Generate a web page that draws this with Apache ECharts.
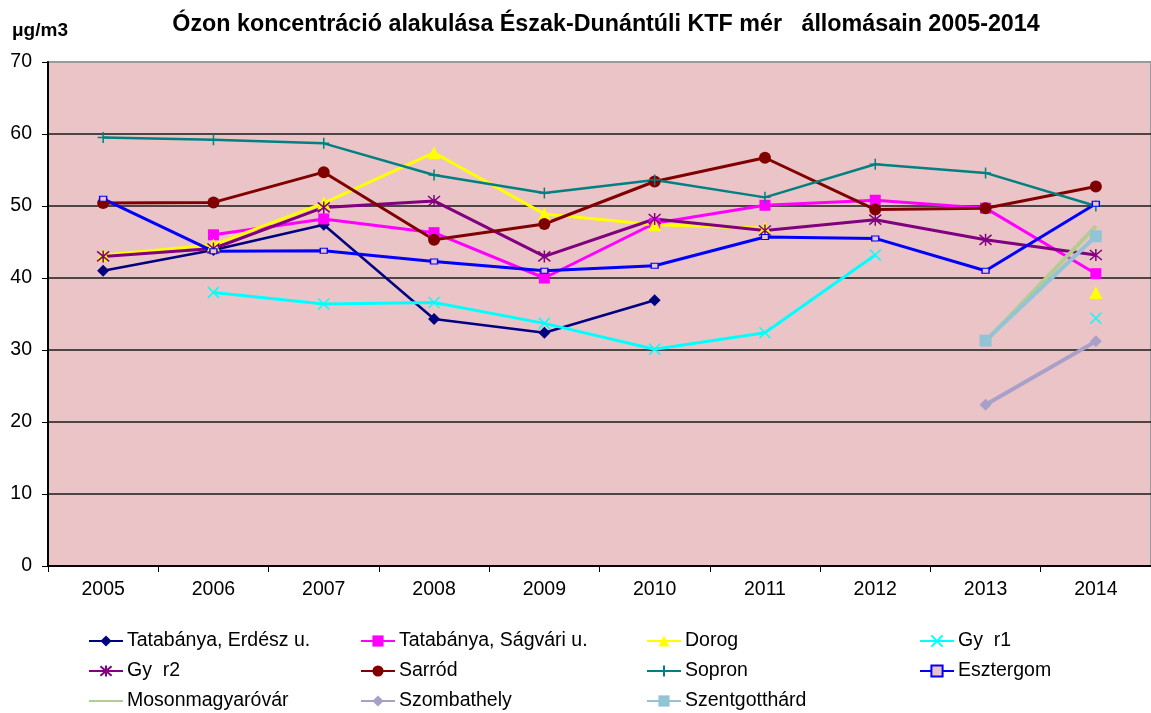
<!DOCTYPE html>
<html>
<head>
<meta charset="utf-8">
<script src="https://cdn.jsdelivr.net/npm/echarts@6/dist/echarts.min.js"></script>
<style>
  html, body { margin: 0; padding: 0; background: #ffffff; }
  #chart { width: 1151px; height: 713px; }
</style>
</head>
<body>
<div id="chart"></div>
<script>
// Ozone concentration (µg/m3) by station, 2005-2014
const years = ['2005', '2006', '2007', '2008', '2009', '2010', '2011', '2012', '2013', '2014'];
const yTicks = [0, 10, 20, 30, 40, 50, 60, 70];

const tatabanyaErdesz  = [41.0, 43.9, 47.4, 34.3, 32.4, 36.9, null, null, null, null];
const tatabanyaSagvari = [null, 46.0, 48.2, 46.3, 40.0, 47.6, 50.1, 50.8, 49.7, 40.6];
const dorog            = [43.2, 44.6, 50.4, 57.4, 48.9, 47.4, 46.9, null, null, 38.0];
const gyor1            = [null, 38.0, 36.4, 36.6, 33.7, 30.1, 32.4, 43.2, null, 34.4];
const gyor2            = [43.0, 44.1, 49.8, 50.7, 43.0, 48.2, 46.6, 48.1, 45.3, 43.2];
const sarrod           = [50.4, 50.5, 54.7, 45.3, 47.5, 53.4, 56.7, 49.5, 49.7, 52.7];
const sopron           = [59.5, 59.2, 58.7, 54.3, 51.8, 53.6, 51.2, 55.8, 54.6, 50.0];
const esztergom        = [51.0, 43.7, 43.8, 42.3, 41.0, 41.7, 45.7, 45.5, 41.0, 50.3];
const mosonmagyarovar  = [null, null, null, null, null, null, null, null, 31.2, 47.2];
const szombathely      = [null, null, null, null, null, null, null, null, 22.4, 31.2];
const szentgotthard    = [null, null, null, null, null, null, null, null, 31.3, 45.8];

const plotBg = '#eac4c6';
const FONT = '"Liberation Sans", Arial, sans-serif';
const LABEL_SIZE = 19.5;

const SYM_X = 'path://M0,0L10,10M10,0L0,10';
const SYM_STAR = 'path://M0,0L10,10M10,0L0,10M5,-1L5,11';
const SYM_PLUS = 'path://M5,0L5,10M4.9,5L5.1,5';
const SYM_NONE = 'path://M0,0L10,10';   // open path without stroke: nothing is painted

function line(name, data, color, width, symbol, size, opts) {
  opts = opts || {};
  return {
    name: name,
    type: 'line',
    data: data,
    connectNulls: false,
    symbol: symbol,
    symbolSize: size,
    showSymbol: true,
    showAllSymbol: true,
    animation: false,
    lineStyle: { color: color, width: width },
    itemStyle: {
      color: opts.fill || color,
      borderColor: color,
      borderWidth: opts.stroke || 0
    },
    emphasis: { disabled: true }
  };
}

const series = [
  line('Tatabánya, Erdész u.', tatabanyaErdesz, '#000080', 2.5, 'diamond', 12),
  line('Tatabánya, Ságvári u.', tatabanyaSagvari, '#ff00ff', 3, 'rect', 11),
  line('Dorog', dorog, '#ffff00', 3, 'triangle', 13),
  line('Gy  r1', gyor1, '#00ffff', 3, SYM_X, 11, { stroke: 1.5 }),
  line('Gy  r2', gyor2, '#800080', 3, SYM_STAR, 12, { stroke: 1.5 }),
  line('Sarród', sarrod, '#800000', 3, 'circle', 12),
  line('Sopron', sopron, '#008080', 2.5, SYM_PLUS, 11, { stroke: 1.5 }),
  line('Esztergom', esztergom, '#0000ff', 3, 'rect', [7, 5], { fill: plotBg, stroke: 1.2 }),
  line('Mosonmagyaróvár', mosonmagyarovar, '#b4cc92', 4, SYM_NONE, 10),
  line('Szombathely', szombathely, '#a8a0c8', 4, 'diamond', 12),
  line('Szentgotthárd', szentgotthard, '#93c4d6', 4, 'rect', 12)
];

// Legend laid out in four fixed columns, three rows
const legendCols = [
  { left: 88,  names: ['Tatabánya, Erdész u.', 'Gy  r2', 'Mosonmagyaróvár'] },
  { left: 360, names: ['Tatabánya, Ságvári u.', 'Sarród', 'Szombathely'] },
  { left: 646, names: ['Dorog', 'Sopron', 'Szentgotthárd'] },
  { left: 919, names: ['Gy  r1', 'Esztergom'] }
];

const legends = legendCols.map(function (c) {
  return {
    data: c.names,
    orient: 'vertical',
    left: c.left,
    top: 631,
    height: 140,
    padding: 0,
    itemWidth: 34,
    itemHeight: 14,
    itemGap: 10,
    selectedMode: false,
    textStyle: { fontFamily: FONT, fontSize: LABEL_SIZE, color: '#000', padding: [0, 0, 0, -1] }
  };
});

const chart = echarts.init(document.getElementById('chart'), null, { renderer: 'canvas' });

chart.setOption({
  backgroundColor: '#ffffff',
  animation: false,
  graphic: [
    {
      type: 'text', x: 606, y: 25,
      style: {
        text: 'Ózon koncentráció alakulása Észak-Dunántúli KTF mér   állomásain 2005-2014',
        font: 'bold 23.3px ' + FONT, fill: '#000',
        align: 'center', verticalAlign: 'middle'
      }
    },
    {
      type: 'text', x: 12, y: 31,
      style: {
        text: 'μg/m3', font: 'bold 19px ' + FONT, fill: '#000',
        align: 'left', verticalAlign: 'middle'
      }
    }
  ],
  legend: legends,
  grid: {
    left: 48, top: 62, width: 1113, height: 504,
    show: true, backgroundColor: plotBg,
    borderColor: '#9a9a9a', borderWidth: 2,
    containLabel: false
  },
  xAxis: {
    type: 'category',
    data: years,
    boundaryGap: true,
    axisLine: { show: true, lineStyle: { color: '#000', width: 2 } },
    axisTick: { show: true, alignWithLabel: false, length: 6, inside: false, lineStyle: { color: '#000', width: 1 } },
    axisLabel: { fontFamily: FONT, fontSize: LABEL_SIZE, color: '#000', margin: 14 },
    splitLine: { show: false }
  },
  yAxis: {
    type: 'value',
    min: yTicks[0],
    max: yTicks[yTicks.length - 1],
    interval: 10,
    axisLine: { show: true, lineStyle: { color: '#000', width: 2 } },
    axisTick: { show: true, length: 6, lineStyle: { color: '#000', width: 1 } },
    axisLabel: { fontFamily: FONT, fontSize: LABEL_SIZE, color: '#000', margin: 16 },
    splitLine: { show: true, showMaxLine: false, lineStyle: { color: '#1a1a1a', width: 1.5 } }
  },
  series: series
});
</script>
</body>
</html>
